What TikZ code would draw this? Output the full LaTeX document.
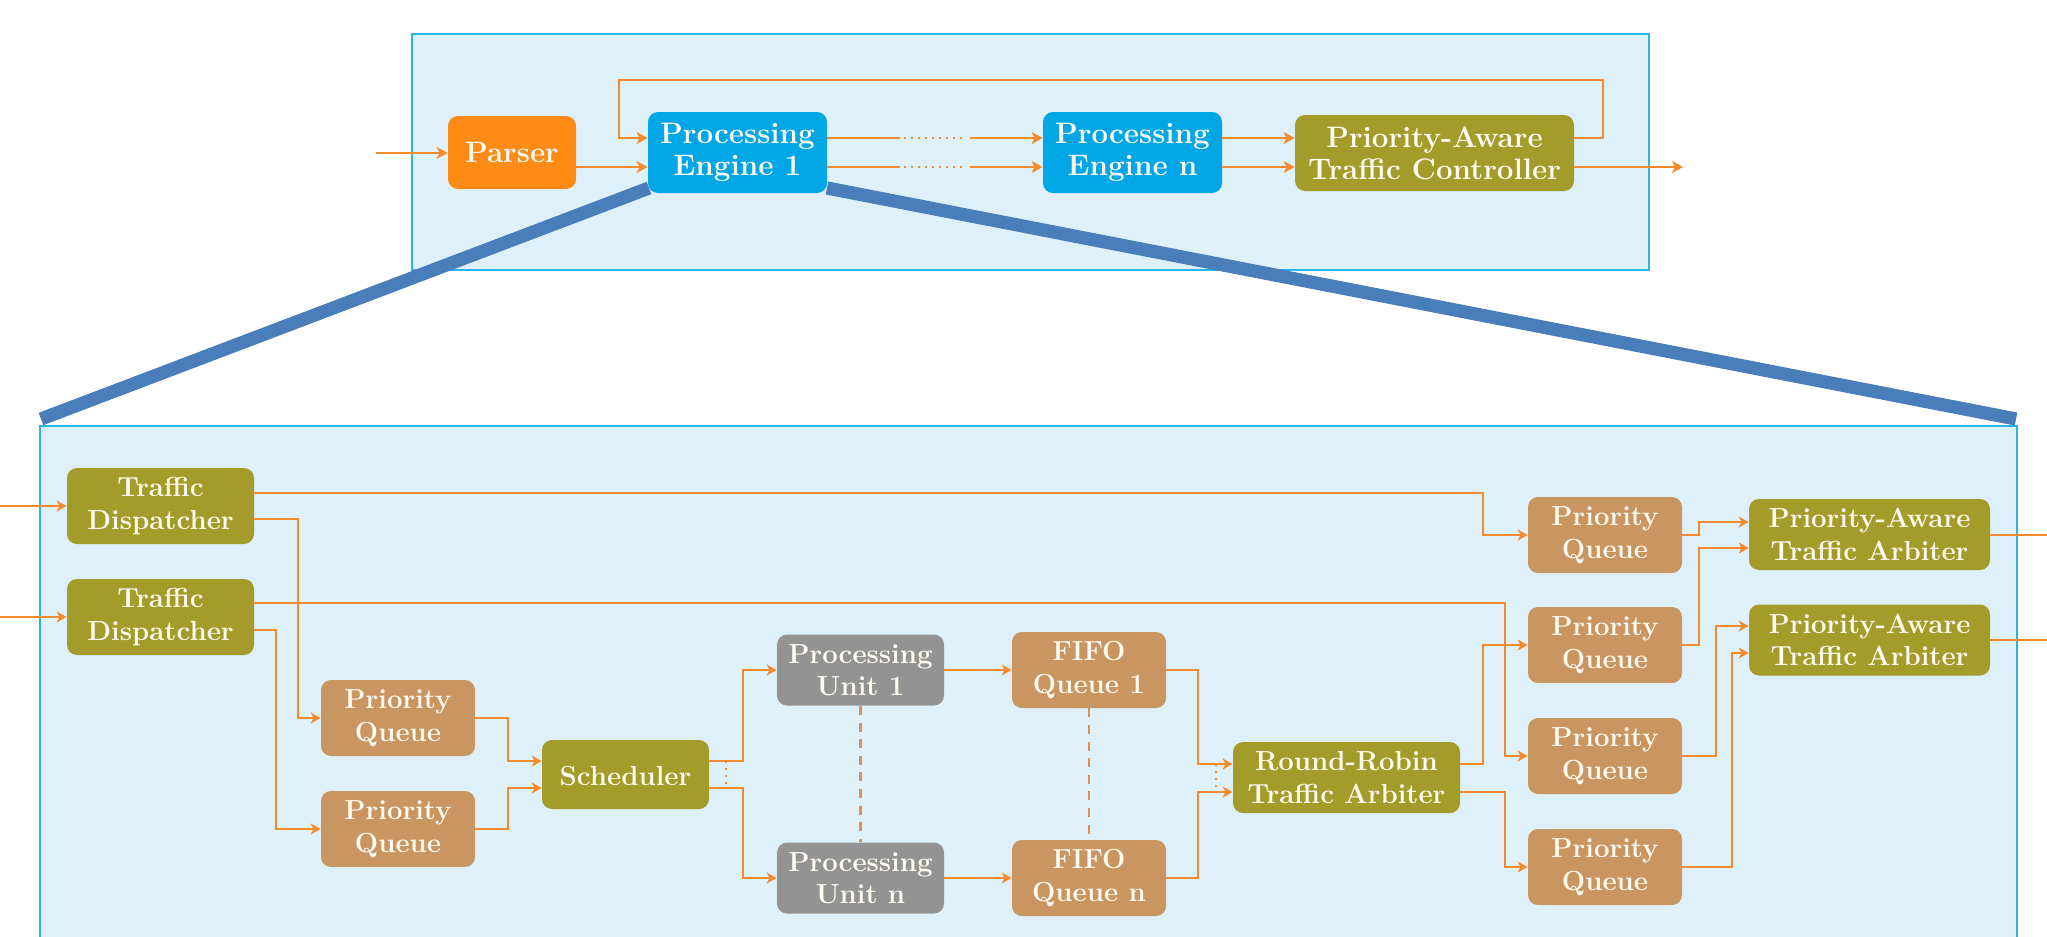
\documentclass[tikz,border=0pt]{standalone}
\usetikzlibrary{arrows.meta}
\definecolor{panelfill}{HTML}{DEF1FA}
\definecolor{panelline}{HTML}{29B4EA}
\definecolor{wire}{HTML}{F58A2C}
\definecolor{zoomline}{HTML}{4A7EBB}
\definecolor{parsercol}{HTML}{FF8B17}
\definecolor{enginecol}{HTML}{00A6E6}
\definecolor{olivecol}{HTML}{A39C2A}
\definecolor{queuecol}{HTML}{C99560}
\definecolor{unitcol}{HTML}{939393}
\definecolor{labelcol}{HTML}{FFFBF0}
\tikzset{
  x=0.5pt,y=-0.5pt,
  panel/.style={draw=panelline,fill=panelfill,line width=1pt},
  blkbase/.style={rounded corners=5pt,inner sep=0pt,align=center,text=labelcol},
  blk/.style={blkbase,font=\fontsize{13.8}{16.3}\selectfont\bfseries,execute at begin node={\rule{0pt}{10.9pt}}},
  bigblk/.style={blkbase,font=\fontsize{14.8}{16}\selectfont\bfseries},
  parserbox/.style={bigblk,fill=parsercol,minimum width=64pt,minimum height=36.5pt},
  enginebox/.style={bigblk,fill=enginecol,minimum width=89.5pt,minimum height=40.5pt},
  ctrlbox/.style={bigblk,fill=olivecol,minimum width=139.5pt,minimum height=38pt,execute at begin node={\rule{0pt}{11.4pt}}},
  dispbox/.style={blk,fill=olivecol,minimum width=93.5pt,minimum height=38pt},
  queuebox/.style={blk,fill=queuecol,minimum width=77pt,minimum height=38pt},
  schedbox/.style={blk,fill=olivecol,minimum width=83.5pt,minimum height=34.5pt},
  unitbox/.style={blk,fill=unitcol,minimum width=83.5pt,minimum height=35.5pt},
  rrbox/.style={blk,fill=olivecol,minimum width=113.5pt,minimum height=35.5pt},
  arbbox/.style={blk,fill=olivecol,minimum width=120.5pt,minimum height=35.5pt},
  wirearrow/.style={draw=wire,line width=1.05pt,-{Stealth[length=5pt,width=5.5pt,inset=1.5pt]}},
  topwire/.style={draw=wire,line width=1.3pt,-{Stealth[length=5.5pt,width=6pt,inset=1.5pt]}},
  wireplain/.style={draw=wire,line width=1.05pt},
  topplain/.style={draw=wire,line width=1.3pt},
  dashedwire/.style={draw=wire!85!black!80!white,line width=1.1pt,dash pattern=on 4.5pt off 3.8pt},
  dotwire/.style={draw=wire,line width=1.1pt,dash pattern=on 1.2pt off 2.3pt},
  zoomedge/.style={draw=zoomline,line width=6.6pt},
}
\begin{document}
\begin{tikzpicture}
\useasboundingbox (0,0) rectangle (2047,937);
\clip (0,0) rectangle (2047,937);
% panels
\draw[panel] (412,34) rectangle (1649,270);
\draw[panel] (40,426) rectangle (2017,960);
% top row
\node[parserbox] (parser) at (512,152.5) {Parser};
\node[enginebox] (pe1) at (737.5,152.5) {Processing\\Engine 1};
\node[enginebox] (pen) at (1132.5,152.5) {Processing\\Engine n};
\node[ctrlbox] (patc) at (1434.5,153) {Priority-Aware\\Traffic Controller};
% zoom lines
\coordinate (zl1) at (649,188);
\coordinate (zl2) at (41,419);
\coordinate (zr1) at (827,188);
\coordinate (zr2) at (2016,419);
\draw[zoomedge] (zl1) -- (zl2);
\draw[zoomedge] (zr1) -- (zr2);
% top wires
\coordinate (topin) at (376,153);
\coordinate (topout) at (1683,167);
\draw[topwire] (topin) -- (parser.west |- topin);
\draw[topwire] (parser.east |- 0,167) -- (pe1.west |- 0,167);
\draw[topwire] (patc.east |- 0,138) -- (1603,138) -- (1603,80) -- (619,80) -- (619,138) -- (pe1.west |- 0,138);
\draw[topwire] (patc.east |- topout) -- (topout);
\foreach \yy in {138,167}{
  \draw[topplain] (pe1.east |- 0,\yy) -- (900,\yy);
  \draw[dotwire] (904,\yy) -- (966,\yy);
  \draw[topwire] (970,\yy) -- (pen.west |- 0,\yy);
  \draw[topwire] (pen.east |- 0,\yy) -- (patc.west |- 0,\yy);
}
% lower blocks
\node[dispbox] (td1) at (160.5,506) {Traffic\\Dispatcher};
\node[dispbox] (td2) at (160.5,617) {Traffic\\Dispatcher};
\node[queuebox] (qa) at (398,718) {Priority\\Queue};
\node[queuebox] (qb) at (398,829) {Priority\\Queue};
\node[schedbox] (sch) at (625.5,774.5) {Scheduler};
\node[unitbox] (pu1) at (860.5,670) {Processing\\Unit 1};
\node[unitbox] (pun) at (860.5,878) {Processing\\Unit n};
\node[queuebox] (ff1) at (1089,670) {FIFO\\Queue 1};
\node[queuebox] (ffn) at (1089,878) {FIFO\\Queue n};
\node[rrbox] (rr) at (1346.5,777.5) {Round-Robin\\Traffic Arbiter};
\node[queuebox] (q1) at (1605,535) {Priority\\Queue};
\node[queuebox] (q2) at (1605,645) {Priority\\Queue};
\node[queuebox] (q3) at (1605,756) {Priority\\Queue};
\node[queuebox] (q4) at (1605,867) {Priority\\Queue};
\node[arbbox] (pa1) at (1869.5,534.5) {Priority-Aware\\Traffic Arbiter};
\node[arbbox] (pa2) at (1869.5,640) {Priority-Aware\\Traffic Arbiter};
% lower wires
\coordinate (in1) at (0,506);
\coordinate (in2) at (0,617);
\coordinate (out1) at (2047,535);
\coordinate (out2) at (2047,640);
\draw[wirearrow] (in1) -- (td1.west |- in1);
\draw[wirearrow] (in2) -- (td2.west |- in2);
\draw[wirearrow] (td1.east |- 0,493) -- (1483,493) -- (1483,535) -- (q1.west);
\draw[wirearrow] (td1.east |- 0,519) -- (298,519) -- (298,718) -- (qa.west);
\draw[wirearrow] (td2.east |- 0,603) -- (1505,603) -- (1505,756) -- (q3.west);
\draw[wirearrow] (td2.east |- 0,630) -- (276,630) -- (276,829) -- (qb.west);
\draw[wirearrow] (qa.east) -- (508,718) -- (508,761) -- (sch.west |- 0,761);
\draw[wirearrow] (qb.east) -- (508,829) -- (508,788) -- (sch.west |- 0,788);
\draw[wirearrow] (sch.east |- 0,761) -- (743,761) -- (743,670) -- (pu1.west);
\draw[wirearrow] (sch.east |- 0,788) -- (743,788) -- (743,878) -- (pun.west);
\draw[dotwire] (726,761) -- (726,788);
\draw[wirearrow] (pu1.east) -- (ff1.west);
\draw[wirearrow] (pun.east) -- (ffn.west);
\draw[dashedwire] (pu1.south) -- (pun.north);
\draw[dashedwire] (ff1.south) -- (ffn.north);
\draw[wirearrow] (ff1.east) -- (1198,670) -- (1198,764) -- (rr.west |- 0,764);
\draw[wirearrow] (ffn.east) -- (1198,878) -- (1198,792) -- (rr.west |- 0,792);
\draw[dotwire] (1216,764) -- (1216,792);
\draw[wirearrow] (rr.east |- 0,764) -- (1483,764) -- (1483,645) -- (q2.west);
\draw[wirearrow] (rr.east |- 0,792) -- (1505,792) -- (1505,867) -- (q4.west);
\draw[wirearrow] (q1.east) -- (1699,535) -- (1699,522) -- (pa1.west |- 0,522);
\draw[wirearrow] (q2.east) -- (1699,645) -- (1699,548) -- (pa1.west |- 0,548);
\draw[wirearrow] (q3.east) -- (1716,756) -- (1716,626) -- (pa2.west |- 0,626);
\draw[wirearrow] (q4.east) -- (1732,867) -- (1732,653) -- (pa2.west |- 0,653);
\draw[wireplain] (pa1.east |- out1) -- (out1);
\draw[wireplain] (pa2.east |- out2) -- (out2);
\end{tikzpicture}
\end{document}
